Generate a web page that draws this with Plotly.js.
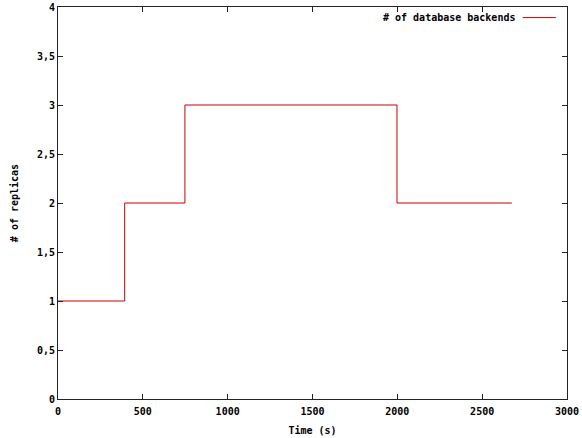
<!DOCTYPE html>
<html>
<head>
<meta charset="utf-8">
<script src="https://cdn.plot.ly/plotly-3.0.1.min.js"></script>
<style>body{margin:0;padding:0;background:#fff;}#chart{width:582px;height:438px;}</style>
</head>
<body>
<div id="chart"></div>
<script>
const seriesName = "# of database backends";
const timeS = [0, 393, 748, 1998, 2675];
const replicas = [1, 2, 3, 2, 2];
const xTickVals = [0, 500, 1000, 1500, 2000, 2500, 3000];
const xTickText = ["0", "500", "1000", "1500", "2000", "2500", "3000"];
const yTickVals = [0, 0.5, 1, 1.5, 2, 2.5, 3, 3.5, 4];
const yTickText = ["0", "0,5", "1", "1,5", "2", "2,5", "3", "3,5", "4"];

const bold = s => "<b>" + s + "</b>";
const font = {family: "DejaVu Sans Mono", size: 10, color: "#000"};
const trace = {
  x: timeS, y: replicas, mode: "lines", line: {shape: "hv", color: "#cc0000", width: 1},
  name: seriesName, showlegend: false, hoverinfo: "skip"
};
const axisCommon = {
  showgrid: false, zeroline: false, showline: true, linecolor: "#222", linewidth: 1,
  mirror: "ticks", ticks: "inside", ticklen: 5, tickcolor: "#222", tickmode: "array",
  tickfont: {family: "DejaVu Sans Mono", size: 10, color: "#000"}
};
const layout = {
  width: 582, height: 438,
  margin: {l: 58, r: 15, t: 7, b: 39},
  paper_bgcolor: "#fff", plot_bgcolor: "#fff",
  font: font,
  xaxis: Object.assign({}, axisCommon, {range: [0, 3000], tickvals: xTickVals, ticktext: xTickText.map(bold),
    ticklabelstandoff: 3,
    title: {text: bold("Time (s)"), font: {family: "DejaVu Sans Mono", size: 10, color: "#000"}, standoff: 10}}),
  yaxis: Object.assign({}, axisCommon, {range: [0, 4], tickvals: yTickVals, ticktext: yTickText.map(bold),
    title: {text: bold("# of replicas"), font: {family: "DejaVu Sans Mono", size: 10, color: "#000"}, standoff: 16}}),
  annotations: [{
    xref: "paper", yref: "paper", x: 0.902, y: 0.973, xanchor: "right", yanchor: "middle",
    text: bold(seriesName), showarrow: false,
    font: {family: "DejaVu Sans Mono", size: 10, color: "#000"}
  }],
  shapes: [{
    type: "line", xref: "paper", yref: "paper", x0: 0.913, x1: 0.978, y0: 0.973, y1: 0.973,
    line: {color: "#cc0000", width: 1}
  }]
};
Plotly.newPlot("chart", [trace], layout, {staticPlot: true, displayModeBar: false});
</script>
</body>
</html>
